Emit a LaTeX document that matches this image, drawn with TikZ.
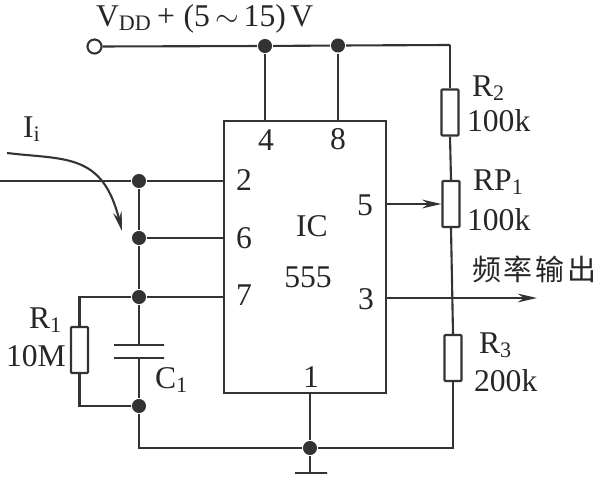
\documentclass[tikz,border=0pt]{standalone}
\usepackage{fontspec}
\setmainfont{Liberation Serif}
\newfontfamily\cjk{Noto Sans CJK SC}
\usetikzlibrary{arrows.meta}

\begin{document}
\begin{tikzpicture}[line width=1.2pt,line join=miter,color=black!80!white]
        %
        % `resistor' is used by R1, R2, R3 and RP1.
        % `junction' is used for the dots, `plate' for C1 and the ground bar.
        \tikzstyle{resistor} = [draw,fill=white,inner sep=0pt,rounded corners=0.5pt,minimum width=0.34cm,minimum height=0.92cm]
        \tikzstyle{junction} = [fill,shape=circle,minimum size=8pt,inner sep=0pt]
        \tikzstyle{terminal} = [draw,fill=white,shape=circle,minimum size=8pt,inner sep=0pt]
        \tikzstyle{plate} = [draw,inner sep=0pt,minimum height=0pt,minimum width=1cm]
        \tikzstyle{label} = [inner sep=0pt,text=black!85!white,font=\fontsize{18}{20}\selectfont]
        \tikzstyle{tip} = [-{Stealth[length=11pt,width=5pt]}]
        %
        \useasboundingbox (0,0) rectangle (11.9,-9.52);
        %
        % IC
        \node[draw,inner sep=0pt,minimum width=3.24cm,minimum height=5.44cm] (ic) at (6.10,-5.14) {};
        \node[label] (icname) at (6.24,-4.52) {IC};
        \node[label] (ictype) at (6.16,-5.54) {555};
        %
        % Supply rail
        \node[terminal] (vdd) at (1.89,-0.93) {};
        \node[junction] (j4) at (5.30,-0.92) {};
        \node[junction] (j8) at (6.76,-0.91) {};
        \coordinate (topr) at (9.00,-0.90);
        \draw (vdd) -- (j4) -- (j8) -- (topr);
        \draw (j4) -- (j4 |- ic.north);
        \draw (j8) -- (j8 |- ic.north);
        %
        % Left side
        \coordinate (in) at (0,-3.62);
        \node[junction] (j2) at (2.78,-3.62) {};
        \node[junction] (j6) at (2.78,-4.76) {};
        \node[junction] (j7) at (2.78,-5.94) {};
        \node[junction] (j0) at (2.78,-8.12) {};
        \draw (in) -- (j2) -- (j2 -| ic.west);
        \draw (j6) -- (j6 -| ic.west);
        \draw (j7) -- (j7 -| ic.west);
        \draw (j2) -- (j6) -- (j7);
        %
        % R1 and C1
        \node[resistor] (r1) at (1.59,-7.00) {};
        \draw (j7) -| (r1.north);
        \draw (r1.south) |- (j0);
        \node[plate] (c1a) at (2.78,-6.90) {};
        \node[plate] (c1b) at (2.78,-7.16) {};
        \draw (j7) -- (c1a);
        \draw (c1b) -- (j0);
        %
        % Right side
        \node[resistor] (r2) at (9.00,-2.25) {};
        \node[resistor] (rp1) at (9.02,-4.08) {};
        \node[resistor] (r3) at (9.06,-7.16) {};
        \draw (topr) -- (r2.north);
        \draw (r2.south) -- (rp1.north);
        \draw (rp1.south) -- (r3.north);
        \draw[tip] (ic.east |- rp1.west) -- (rp1.west);
        \coordinate (out) at (10.74,-5.96);
        \draw[tip] (ic.east |- out) -- (out);
        %
        % Ground
        \node[junction] (jg) at (6.20,-8.96) {};
        \node[plate,minimum width=0.64cm,line width=1.6pt] (gnd) at (6.22,-9.46) {};
        \draw (jg |- ic.south) -- (jg) -- (jg |- gnd);
        \draw (j0) |- (jg);
        \draw (jg) -| (r3.south);
        %
        % Input current
        \coordinate (istart) at (0.14,-3.06);
        \coordinate (iend) at (2.44,-4.62);
        \draw[tip] (istart) .. controls (1.3,-3.2) and (2.05,-3.05) .. (iend);
        %
        % Pin numbers
        \node[label] (p4) at (5.32,-2.80) {4};
        \node[label] (p8) at (6.76,-2.78) {8};
        \node[label] (p2) at (4.88,-3.60) {2};
        \node[label] (p6) at (4.88,-4.76) {6};
        \node[label] (p7) at (4.88,-5.90) {7};
        \node[label] (p5) at (7.30,-4.10) {5};
        \node[label] (p3) at (7.32,-5.98) {3};
        \node[label] (p1) at (6.22,-7.54) {1};
        %
        % Labels
        \node[label,anchor=base west] (vddtext) at (1.90,-0.52) {V\textsubscript{DD}\kern3pt+\kern5pt(5$\,\sim\,$15)\kern2.5pt V};
        \node[label,anchor=base west] (ii) at (0.44,-2.74) {I\textsubscript{i}};
        \node[label,anchor=base west] (r1name) at (0.56,-6.56) {R\textsubscript{1}};
        \node[label,anchor=base west] (r1val) at (0.10,-7.32) {10M};
        \node[label,anchor=base west] (c1name) at (3.08,-7.76) {C\textsubscript{1}};
        \node[label,anchor=base west] (r2name) at (9.42,-1.92) {R\textsubscript{2}};
        \node[label,anchor=base west] (r2val) at (9.32,-2.62) {100k};
        \node[label,anchor=base west] (rp1name) at (9.44,-3.80) {RP\textsubscript{1}};
        \node[label,anchor=base west] (rp1val) at (9.32,-4.60) {100k};
        \node[label,anchor=base west] (r3name) at (9.56,-7.06) {R\textsubscript{3}};
        \node[label,anchor=base west] (r3val) at (9.46,-7.82) {200k};
        \node[label,anchor=base west,font=\fontsize{16.5}{18}\cjk] (outtext) at (9.42,-5.60) {频\kern1.6pt率\kern1.6pt输\kern1.6pt出};
        %
\end{tikzpicture}
\end{document}
